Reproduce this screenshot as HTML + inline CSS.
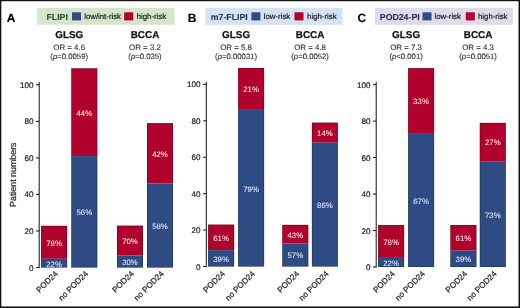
<!DOCTYPE html><html><head><meta charset="utf-8"><style>html,body{margin:0;padding:0;background:#fff;}svg{display:block;will-change:transform;}text{font-family:"Liberation Sans",sans-serif;text-rendering:geometricPrecision;}</style></head><body>
<svg width="520" height="308" viewBox="0 0 520 308">
<rect x="0" y="0" width="520" height="308" fill="#fff"/>
<rect x="37.2" y="7.8" width="137.3" height="17" fill="#d5e5cd"/>
<text x="46.5" y="19.8" font-size="8.75" font-weight="bold" fill="#2e4e38" stroke="#2e4e38" stroke-width="0.15">FLIPI</text>
<rect x="72.0" y="12.3" width="9" height="8.1" fill="#2f4b83"/>
<text x="84.2" y="18.7" font-size="7.8" fill="#1a1a1a" stroke="#1a1a1a" stroke-width="0.2">low/int-risk</text>
<rect x="124.2" y="12.3" width="9" height="8.1" fill="#b0022d"/>
<text x="136.7" y="18.7" font-size="7.8" fill="#1a1a1a" stroke="#1a1a1a" stroke-width="0.2">high-risk</text>
<text x="6.8" y="21.8" font-size="12" font-weight="bold" fill="#000" stroke="#000" stroke-width="0.15">A</text>
<line x1="39.2" y1="81.8" x2="39.2" y2="268.0" stroke="#111" stroke-width="1"/>
<line x1="36.0" y1="267.50" x2="39.2" y2="267.50" stroke="#111" stroke-width="1"/>
<text x="33.5" y="270.55" font-size="8.1" text-anchor="end" fill="#1a1a1a" stroke="#1a1a1a" stroke-width="0.2">0</text>
<line x1="36.0" y1="230.96" x2="39.2" y2="230.96" stroke="#111" stroke-width="1"/>
<text x="33.5" y="234.01" font-size="8.1" text-anchor="end" fill="#1a1a1a" stroke="#1a1a1a" stroke-width="0.2">20</text>
<line x1="36.0" y1="194.42" x2="39.2" y2="194.42" stroke="#111" stroke-width="1"/>
<text x="33.5" y="197.47" font-size="8.1" text-anchor="end" fill="#1a1a1a" stroke="#1a1a1a" stroke-width="0.2">40</text>
<line x1="36.0" y1="157.88" x2="39.2" y2="157.88" stroke="#111" stroke-width="1"/>
<text x="33.5" y="160.93" font-size="8.1" text-anchor="end" fill="#1a1a1a" stroke="#1a1a1a" stroke-width="0.2">60</text>
<line x1="36.0" y1="121.34" x2="39.2" y2="121.34" stroke="#111" stroke-width="1"/>
<text x="33.5" y="124.39" font-size="8.1" text-anchor="end" fill="#1a1a1a" stroke="#1a1a1a" stroke-width="0.2">80</text>
<line x1="36.0" y1="84.80" x2="39.2" y2="84.80" stroke="#111" stroke-width="1"/>
<text x="33.5" y="87.85" font-size="8.1" text-anchor="end" fill="#1a1a1a" stroke="#1a1a1a" stroke-width="0.2">100</text>
<text transform="translate(15.9,174.7) rotate(-90)" x="0" y="0" font-size="8.85" text-anchor="middle" fill="#1a1a1a" stroke="#1a1a1a" stroke-width="0.2">Patient numbers</text>
<rect x="41.1" y="225.84" width="26" height="32.98" fill="#b0022d"/>
<rect x="41.1" y="258.82" width="26" height="8.68" fill="#2f4b83"/>
<rect x="41.40" y="226.14" width="25.40" height="41.06" fill="none" stroke="#000" stroke-opacity="0.35" stroke-width="0.6"/>
<text x="54.10" y="245.73" font-size="7.8" text-anchor="middle" fill="#fde4ea" stroke="#fde4ea" stroke-width="0.08">78%</text>
<text x="54.10" y="266.56" font-size="7.8" text-anchor="middle" fill="#dfe7f6" stroke="#dfe7f6" stroke-width="0.08">22%</text>
<text transform="translate(58.50,274.2) rotate(-45)" x="0" y="0" font-size="8.2" text-anchor="end" fill="#1a1a1a" stroke="#1a1a1a" stroke-width="0.2">POD24</text>
<rect x="71.3" y="68.36" width="26" height="87.70" fill="#b0022d"/>
<rect x="71.3" y="156.05" width="26" height="111.45" fill="#2f4b83"/>
<rect x="71.60" y="68.66" width="25.40" height="198.54" fill="none" stroke="#000" stroke-opacity="0.35" stroke-width="0.6"/>
<text x="84.30" y="115.61" font-size="7.8" text-anchor="middle" fill="#fde4ea" stroke="#fde4ea" stroke-width="0.08">44%</text>
<text x="84.30" y="215.18" font-size="7.8" text-anchor="middle" fill="#dfe7f6" stroke="#dfe7f6" stroke-width="0.08">56%</text>
<text transform="translate(88.70,274.2) rotate(-45)" x="0" y="0" font-size="8.2" text-anchor="end" fill="#1a1a1a" stroke="#1a1a1a" stroke-width="0.2">no POD24</text>
<rect x="117.0" y="225.66" width="26" height="29.87" fill="#b0022d"/>
<rect x="117.0" y="255.53" width="26" height="11.97" fill="#2f4b83"/>
<rect x="117.30" y="225.96" width="25.40" height="41.24" fill="none" stroke="#000" stroke-opacity="0.35" stroke-width="0.6"/>
<text x="130.00" y="244.00" font-size="7.8" text-anchor="middle" fill="#fde4ea" stroke="#fde4ea" stroke-width="0.08">70%</text>
<text x="130.00" y="264.92" font-size="7.8" text-anchor="middle" fill="#dfe7f6" stroke="#dfe7f6" stroke-width="0.08">30%</text>
<text transform="translate(134.40,274.2) rotate(-45)" x="0" y="0" font-size="8.2" text-anchor="end" fill="#1a1a1a" stroke="#1a1a1a" stroke-width="0.2">POD24</text>
<rect x="147.0" y="123.17" width="26" height="60.29" fill="#b0022d"/>
<rect x="147.0" y="183.46" width="26" height="84.04" fill="#2f4b83"/>
<rect x="147.30" y="123.47" width="25.40" height="143.73" fill="none" stroke="#000" stroke-opacity="0.35" stroke-width="0.6"/>
<text x="160.00" y="156.71" font-size="7.8" text-anchor="middle" fill="#fde4ea" stroke="#fde4ea" stroke-width="0.08">42%</text>
<text x="160.00" y="228.88" font-size="7.8" text-anchor="middle" fill="#dfe7f6" stroke="#dfe7f6" stroke-width="0.08">58%</text>
<text transform="translate(164.40,274.2) rotate(-45)" x="0" y="0" font-size="8.2" text-anchor="end" fill="#1a1a1a" stroke="#1a1a1a" stroke-width="0.2">no POD24</text>
<text x="69.20" y="37.7" font-size="9.9" font-weight="bold" text-anchor="middle" fill="#111" stroke="#111" stroke-width="0.25">GLSG</text>
<text x="69.20" y="50.3" font-size="7.9" text-anchor="middle" fill="#262626" stroke="#262626" stroke-width="0.08">OR = 4.6</text>
<text x="69.20" y="58.9" font-size="7.75" text-anchor="middle" fill="#262626" stroke="#262626" stroke-width="0.08">(<tspan font-style="italic">p</tspan>=0.0059)</text>
<text x="145.00" y="37.7" font-size="9.9" font-weight="bold" text-anchor="middle" fill="#111" stroke="#111" stroke-width="0.25">BCCA</text>
<text x="145.00" y="50.3" font-size="7.9" text-anchor="middle" fill="#262626" stroke="#262626" stroke-width="0.08">OR = 3.2</text>
<text x="145.00" y="58.9" font-size="7.75" text-anchor="middle" fill="#262626" stroke="#262626" stroke-width="0.08">(<tspan font-style="italic">p</tspan>=0.035)</text>
<rect x="205.5" y="7.8" width="136.9" height="17" fill="#d5e2f2"/>
<text x="210.8" y="19.8" font-size="8.75" font-weight="bold" fill="#28395f" stroke="#28395f" stroke-width="0.15">m7-FLIPI</text>
<rect x="251.4" y="12.3" width="9" height="8.1" fill="#2f4b83"/>
<text x="263.8" y="18.7" font-size="7.8" fill="#1a1a1a" stroke="#1a1a1a" stroke-width="0.2">low-risk</text>
<rect x="294.5" y="12.3" width="9" height="8.1" fill="#b0022d"/>
<text x="307.1" y="18.7" font-size="7.8" fill="#1a1a1a" stroke="#1a1a1a" stroke-width="0.2">high-risk</text>
<text x="187.7" y="21.8" font-size="12" font-weight="bold" fill="#000" stroke="#000" stroke-width="0.15">B</text>
<line x1="206.3" y1="81.8" x2="206.3" y2="267.0" stroke="#111" stroke-width="1"/>
<line x1="203.10000000000002" y1="266.50" x2="206.3" y2="266.50" stroke="#111" stroke-width="1"/>
<text x="200.60000000000002" y="269.55" font-size="8.1" text-anchor="end" fill="#1a1a1a" stroke="#1a1a1a" stroke-width="0.2">0</text>
<line x1="203.10000000000002" y1="230.08" x2="206.3" y2="230.08" stroke="#111" stroke-width="1"/>
<text x="200.60000000000002" y="233.13" font-size="8.1" text-anchor="end" fill="#1a1a1a" stroke="#1a1a1a" stroke-width="0.2">20</text>
<line x1="203.10000000000002" y1="193.66" x2="206.3" y2="193.66" stroke="#111" stroke-width="1"/>
<text x="200.60000000000002" y="196.71" font-size="8.1" text-anchor="end" fill="#1a1a1a" stroke="#1a1a1a" stroke-width="0.2">40</text>
<line x1="203.10000000000002" y1="157.24" x2="206.3" y2="157.24" stroke="#111" stroke-width="1"/>
<text x="200.60000000000002" y="160.29" font-size="8.1" text-anchor="end" fill="#1a1a1a" stroke="#1a1a1a" stroke-width="0.2">60</text>
<line x1="203.10000000000002" y1="120.82" x2="206.3" y2="120.82" stroke="#111" stroke-width="1"/>
<text x="200.60000000000002" y="123.87" font-size="8.1" text-anchor="end" fill="#1a1a1a" stroke="#1a1a1a" stroke-width="0.2">80</text>
<line x1="203.10000000000002" y1="84.40" x2="206.3" y2="84.40" stroke="#111" stroke-width="1"/>
<text x="200.60000000000002" y="87.45" font-size="8.1" text-anchor="end" fill="#1a1a1a" stroke="#1a1a1a" stroke-width="0.2">100</text>
<rect x="208.1" y="224.62" width="26" height="25.49" fill="#b0022d"/>
<rect x="208.1" y="250.11" width="26" height="16.39" fill="#2f4b83"/>
<rect x="208.40" y="224.92" width="25.40" height="41.28" fill="none" stroke="#000" stroke-opacity="0.35" stroke-width="0.6"/>
<text x="221.10" y="240.76" font-size="7.8" text-anchor="middle" fill="#fde4ea" stroke="#fde4ea" stroke-width="0.08">61%</text>
<text x="221.10" y="261.71" font-size="7.8" text-anchor="middle" fill="#dfe7f6" stroke="#dfe7f6" stroke-width="0.08">39%</text>
<text transform="translate(225.50,274.2) rotate(-45)" x="0" y="0" font-size="8.2" text-anchor="end" fill="#1a1a1a" stroke="#1a1a1a" stroke-width="0.2">POD24</text>
<rect x="238.1" y="68.01" width="26" height="41.88" fill="#b0022d"/>
<rect x="238.1" y="109.89" width="26" height="156.61" fill="#2f4b83"/>
<rect x="238.40" y="68.31" width="25.40" height="197.89" fill="none" stroke="#000" stroke-opacity="0.35" stroke-width="0.6"/>
<text x="251.10" y="92.35" font-size="7.8" text-anchor="middle" fill="#fde4ea" stroke="#fde4ea" stroke-width="0.08">21%</text>
<text x="251.10" y="191.60" font-size="7.8" text-anchor="middle" fill="#dfe7f6" stroke="#dfe7f6" stroke-width="0.08">79%</text>
<text transform="translate(255.50,274.2) rotate(-45)" x="0" y="0" font-size="8.2" text-anchor="end" fill="#1a1a1a" stroke="#1a1a1a" stroke-width="0.2">no POD24</text>
<rect x="282.3" y="224.89" width="26" height="18.67" fill="#b0022d"/>
<rect x="282.3" y="243.56" width="26" height="22.94" fill="#2f4b83"/>
<rect x="282.60" y="225.19" width="25.40" height="41.01" fill="none" stroke="#000" stroke-opacity="0.35" stroke-width="0.6"/>
<text x="295.30" y="237.62" font-size="7.8" text-anchor="middle" fill="#fde4ea" stroke="#fde4ea" stroke-width="0.08">43%</text>
<text x="295.30" y="258.43" font-size="7.8" text-anchor="middle" fill="#dfe7f6" stroke="#dfe7f6" stroke-width="0.08">57%</text>
<text transform="translate(299.70,274.2) rotate(-45)" x="0" y="0" font-size="8.2" text-anchor="end" fill="#1a1a1a" stroke="#1a1a1a" stroke-width="0.2">POD24</text>
<rect x="311.9" y="122.64" width="26" height="20.03" fill="#b0022d"/>
<rect x="311.9" y="142.67" width="26" height="123.83" fill="#2f4b83"/>
<rect x="312.20" y="122.94" width="25.40" height="143.26" fill="none" stroke="#000" stroke-opacity="0.35" stroke-width="0.6"/>
<text x="324.90" y="136.06" font-size="7.8" text-anchor="middle" fill="#fde4ea" stroke="#fde4ea" stroke-width="0.08">14%</text>
<text x="324.90" y="207.99" font-size="7.8" text-anchor="middle" fill="#dfe7f6" stroke="#dfe7f6" stroke-width="0.08">86%</text>
<text transform="translate(329.30,274.2) rotate(-45)" x="0" y="0" font-size="8.2" text-anchor="end" fill="#1a1a1a" stroke="#1a1a1a" stroke-width="0.2">no POD24</text>
<text x="236.10" y="37.7" font-size="9.9" font-weight="bold" text-anchor="middle" fill="#111" stroke="#111" stroke-width="0.25">GLSG</text>
<text x="236.10" y="50.3" font-size="7.9" text-anchor="middle" fill="#262626" stroke="#262626" stroke-width="0.08">OR = 5.8</text>
<text x="236.10" y="58.9" font-size="7.75" text-anchor="middle" fill="#262626" stroke="#262626" stroke-width="0.08">(<tspan font-style="italic">p</tspan>=0.00031)</text>
<text x="310.10" y="37.7" font-size="9.9" font-weight="bold" text-anchor="middle" fill="#111" stroke="#111" stroke-width="0.25">BCCA</text>
<text x="310.10" y="50.3" font-size="7.9" text-anchor="middle" fill="#262626" stroke="#262626" stroke-width="0.08">OR = 4.8</text>
<text x="310.10" y="58.9" font-size="7.75" text-anchor="middle" fill="#262626" stroke="#262626" stroke-width="0.08">(<tspan font-style="italic">p</tspan>=0.0052)</text>
<rect x="375.0" y="7.8" width="137.8" height="17" fill="#dedbec"/>
<text x="379.8" y="19.8" font-size="8.75" font-weight="bold" fill="#3b2d5c" stroke="#3b2d5c" stroke-width="0.15">POD24-PI</text>
<rect x="422.5" y="12.3" width="9" height="8.1" fill="#2f4b83"/>
<text x="434.5" y="18.7" font-size="7.8" fill="#1a1a1a" stroke="#1a1a1a" stroke-width="0.2">low-risk</text>
<rect x="465.8" y="12.3" width="9" height="8.1" fill="#b0022d"/>
<text x="478.0" y="18.7" font-size="7.8" fill="#1a1a1a" stroke="#1a1a1a" stroke-width="0.2">high-risk</text>
<text x="357.5" y="21.8" font-size="12" font-weight="bold" fill="#000" stroke="#000" stroke-width="0.15">C</text>
<line x1="376.2" y1="81.8" x2="376.2" y2="267.5" stroke="#111" stroke-width="1"/>
<line x1="373.0" y1="267.00" x2="376.2" y2="267.00" stroke="#111" stroke-width="1"/>
<text x="370.5" y="270.05" font-size="8.1" text-anchor="end" fill="#1a1a1a" stroke="#1a1a1a" stroke-width="0.2">0</text>
<line x1="373.0" y1="230.52" x2="376.2" y2="230.52" stroke="#111" stroke-width="1"/>
<text x="370.5" y="233.57" font-size="8.1" text-anchor="end" fill="#1a1a1a" stroke="#1a1a1a" stroke-width="0.2">20</text>
<line x1="373.0" y1="194.04" x2="376.2" y2="194.04" stroke="#111" stroke-width="1"/>
<text x="370.5" y="197.09" font-size="8.1" text-anchor="end" fill="#1a1a1a" stroke="#1a1a1a" stroke-width="0.2">40</text>
<line x1="373.0" y1="157.56" x2="376.2" y2="157.56" stroke="#111" stroke-width="1"/>
<text x="370.5" y="160.61" font-size="8.1" text-anchor="end" fill="#1a1a1a" stroke="#1a1a1a" stroke-width="0.2">60</text>
<line x1="373.0" y1="121.08" x2="376.2" y2="121.08" stroke="#111" stroke-width="1"/>
<text x="370.5" y="124.13" font-size="8.1" text-anchor="end" fill="#1a1a1a" stroke="#1a1a1a" stroke-width="0.2">80</text>
<line x1="373.0" y1="84.60" x2="376.2" y2="84.60" stroke="#111" stroke-width="1"/>
<text x="370.5" y="87.65" font-size="8.1" text-anchor="end" fill="#1a1a1a" stroke="#1a1a1a" stroke-width="0.2">100</text>
<rect x="378.1" y="225.05" width="26" height="32.83" fill="#b0022d"/>
<rect x="378.1" y="257.88" width="26" height="9.12" fill="#2f4b83"/>
<rect x="378.40" y="225.35" width="25.40" height="41.35" fill="none" stroke="#000" stroke-opacity="0.35" stroke-width="0.6"/>
<text x="391.10" y="244.86" font-size="7.8" text-anchor="middle" fill="#fde4ea" stroke="#fde4ea" stroke-width="0.08">78%</text>
<text x="391.10" y="265.84" font-size="7.8" text-anchor="middle" fill="#dfe7f6" stroke="#dfe7f6" stroke-width="0.08">22%</text>
<text transform="translate(395.50,274.2) rotate(-45)" x="0" y="0" font-size="8.2" text-anchor="end" fill="#1a1a1a" stroke="#1a1a1a" stroke-width="0.2">POD24</text>
<rect x="408.1" y="68.18" width="26" height="65.66" fill="#b0022d"/>
<rect x="408.1" y="133.85" width="26" height="133.15" fill="#2f4b83"/>
<rect x="408.40" y="68.48" width="25.40" height="198.22" fill="none" stroke="#000" stroke-opacity="0.35" stroke-width="0.6"/>
<text x="421.10" y="104.42" font-size="7.8" text-anchor="middle" fill="#fde4ea" stroke="#fde4ea" stroke-width="0.08">33%</text>
<text x="421.10" y="203.82" font-size="7.8" text-anchor="middle" fill="#dfe7f6" stroke="#dfe7f6" stroke-width="0.08">67%</text>
<text transform="translate(425.50,274.2) rotate(-45)" x="0" y="0" font-size="8.2" text-anchor="end" fill="#1a1a1a" stroke="#1a1a1a" stroke-width="0.2">no POD24</text>
<rect x="450.4" y="225.05" width="26" height="25.54" fill="#b0022d"/>
<rect x="450.4" y="250.58" width="26" height="16.42" fill="#2f4b83"/>
<rect x="450.70" y="225.35" width="25.40" height="41.35" fill="none" stroke="#000" stroke-opacity="0.35" stroke-width="0.6"/>
<text x="463.40" y="241.22" font-size="7.8" text-anchor="middle" fill="#fde4ea" stroke="#fde4ea" stroke-width="0.08">61%</text>
<text x="463.40" y="262.19" font-size="7.8" text-anchor="middle" fill="#dfe7f6" stroke="#dfe7f6" stroke-width="0.08">39%</text>
<text transform="translate(467.80,274.2) rotate(-45)" x="0" y="0" font-size="8.2" text-anchor="end" fill="#1a1a1a" stroke="#1a1a1a" stroke-width="0.2">POD24</text>
<rect x="479.8" y="122.90" width="26" height="38.30" fill="#b0022d"/>
<rect x="479.8" y="161.21" width="26" height="105.79" fill="#2f4b83"/>
<rect x="480.10" y="123.20" width="25.40" height="143.50" fill="none" stroke="#000" stroke-opacity="0.35" stroke-width="0.6"/>
<text x="492.80" y="145.46" font-size="7.8" text-anchor="middle" fill="#fde4ea" stroke="#fde4ea" stroke-width="0.08">27%</text>
<text x="492.80" y="217.50" font-size="7.8" text-anchor="middle" fill="#dfe7f6" stroke="#dfe7f6" stroke-width="0.08">73%</text>
<text transform="translate(497.20,274.2) rotate(-45)" x="0" y="0" font-size="8.2" text-anchor="end" fill="#1a1a1a" stroke="#1a1a1a" stroke-width="0.2">no POD24</text>
<text x="406.10" y="37.7" font-size="9.9" font-weight="bold" text-anchor="middle" fill="#111" stroke="#111" stroke-width="0.25">GLSG</text>
<text x="406.10" y="50.3" font-size="7.9" text-anchor="middle" fill="#262626" stroke="#262626" stroke-width="0.08">OR = 7.3</text>
<text x="406.10" y="58.9" font-size="7.75" text-anchor="middle" fill="#262626" stroke="#262626" stroke-width="0.08">(<tspan font-style="italic">p</tspan><0.001)</text>
<text x="478.10" y="37.7" font-size="9.9" font-weight="bold" text-anchor="middle" fill="#111" stroke="#111" stroke-width="0.25">BCCA</text>
<text x="478.10" y="50.3" font-size="7.9" text-anchor="middle" fill="#262626" stroke="#262626" stroke-width="0.08">OR = 4.3</text>
<text x="478.10" y="58.9" font-size="7.75" text-anchor="middle" fill="#262626" stroke="#262626" stroke-width="0.08">(<tspan font-style="italic">p</tspan>=0.0051)</text>
<rect x="1" y="1" width="518" height="1" fill="#000" fill-opacity="0.2"/>
<rect x="1" y="1" width="1" height="306" fill="#000" fill-opacity="0.3"/>
<rect x="518" y="1" width="1" height="306" fill="#000" fill-opacity="0.45"/>
<rect x="1" y="306" width="518" height="1" fill="#000" fill-opacity="0.5"/>
<rect x="0" y="0" width="520" height="1" fill="#111"/><rect x="0" y="0" width="1" height="308" fill="#111"/>
<rect x="519" y="0" width="1" height="308" fill="#111"/><rect x="0" y="307" width="520" height="1" fill="#111"/>
</svg></body></html>
